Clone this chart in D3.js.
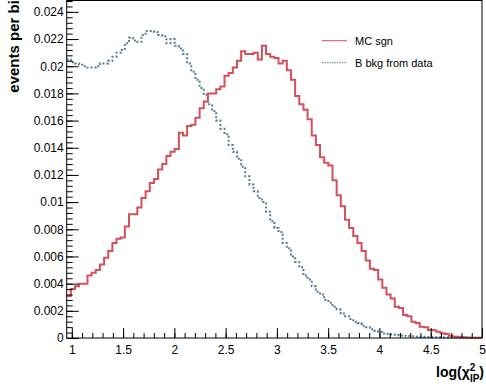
<!DOCTYPE html>
<html>
<head>
<meta charset="utf-8">
<script src="https://cdn.jsdelivr.net/npm/d3@7"></script>
<style>
  body { margin: 0; background: #fff; }
  svg { display: block; font-family: "Liberation Sans", Arial, sans-serif; }
</style>
</head>
<body>
<div id="chart"></div>
<script>
// histogram binning
const binLo = 0.95;
const binHi = 5;
const nBins = 100;

// MC signal, events per bin
const mcSgn = [
  0.0031, 0.0036, 0.0038, 0.0040, 0.0040, 0.0046, 0.0048, 0.0050, 0.0054, 0.0059,
  0.0064, 0.0070, 0.0073, 0.0074, 0.0082, 0.0091, 0.0091, 0.0096, 0.0103, 0.0108,
  0.0114, 0.0117, 0.0124, 0.0128, 0.0134, 0.0137, 0.0139, 0.0151, 0.0149, 0.0156,
  0.0157, 0.0162, 0.0169, 0.0174, 0.0180, 0.0180, 0.0183, 0.0185, 0.0193, 0.0195,
  0.0199, 0.0204, 0.0211, 0.0209, 0.0209, 0.0210, 0.0205, 0.0215, 0.0209, 0.0207,
  0.0206, 0.0202, 0.0204, 0.0197, 0.0190, 0.0178, 0.0172, 0.0168, 0.0161, 0.0149,
  0.0142, 0.0133, 0.0129, 0.0127, 0.0116, 0.0105, 0.0097, 0.0087, 0.0081, 0.0075,
  0.0070, 0.0064, 0.0057, 0.0051, 0.0050, 0.0043, 0.0037, 0.0032, 0.0029, 0.0023,
  0.0022, 0.0017, 0.0016, 0.0012, 0.0011, 0.00083, 0.00079, 0.00059, 0.00057, 0.00046,
  0.00035, 0.0003, 0.00017, 0.0001, 0.0001, 0.00005, 0.00004, 0.00002, 0.00001, 0.00001
];

// B background from data
const bBkg = [
  0.0205, 0.0203, 0.0202, 0.0201, 0.0200, 0.0199, 0.0199, 0.0200, 0.0202, 0.0202,
  0.0204, 0.0207, 0.0210, 0.0212, 0.0217, 0.0221, 0.0219, 0.0218, 0.0223, 0.0226,
  0.0226, 0.0225, 0.0223, 0.0222, 0.0217, 0.0220, 0.0215, 0.0213, 0.0209, 0.0202,
  0.0196, 0.0190, 0.0184, 0.0179, 0.0172, 0.0167, 0.0160, 0.0154, 0.0150, 0.0142,
  0.0137, 0.0132, 0.0126, 0.0119, 0.0113, 0.0108, 0.0103, 0.0100, 0.0093, 0.0086,
  0.0081, 0.0078, 0.0070, 0.0066, 0.0060, 0.0056, 0.0052, 0.0046, 0.0043, 0.0038,
  0.0034, 0.0032, 0.0028, 0.0026, 0.0023, 0.0021, 0.0018, 0.0016, 0.0014, 0.0012,
  0.0011, 0.0009, 0.0008, 0.00064, 0.00054, 0.00044, 0.00034, 0.0003, 0.00026, 0.00022,
  0.00019, 0.00016, 0.00014, 0.00012, 0.0001, 0.00009, 0.00008, 0.00007, 0.00006, 0.00005,
  0.00004, 0.00004, 0.00003, 0.00003, 0.00002, 0.00002, 0.00002, 0.00001, 0.00001, 0.00001
];

const xTicks = [1, 1.5, 2, 2.5, 3, 3.5, 4, 4.5, 5];
const yTicks = [0, 0.002, 0.004, 0.006, 0.008, 0.01, 0.012, 0.014, 0.016, 0.018, 0.02, 0.022, 0.024];
const yMax = 0.0248;
const legendLabels = ['MC sgn', 'B bkg from data'];

const width = 486;
const height = 389;
const frame = { left: 66.7, right: 482, top: 1, bottom: 338 };
const red = '#d4505a';
const blue = '#5b7b98';

const svg = d3.select('#chart')
  .append('svg')
  .attr('width', width)
  .attr('height', height);

const x = d3.scaleLinear().domain([binLo, binHi]).range([frame.left, frame.right]);
const y = d3.scaleLinear().domain([0, yMax]).range([frame.bottom, frame.top]);

const binW = (binHi - binLo) / nBins;
function steps(vals) {
  const pts = vals.map((v, i) => [binLo + i * binW, v]);
  pts.push([binHi, vals[vals.length - 1]]);
  return pts;
}

const line = d3.line()
  .x(d => x(d[0]))
  .y(d => y(d[1]))
  .curve(d3.curveStepAfter);

// histograms
svg.append('path')
  .attr('d', line(steps(bBkg)))
  .attr('fill', 'none')
  .attr('stroke', blue)
  .attr('stroke-width', 2)
  .attr('stroke-dasharray', '2,2');

svg.append('path')
  .attr('d', line(steps(mcSgn)))
  .attr('fill', 'none')
  .attr('stroke', red)
  .attr('stroke-width', 2);

// axes, ticks pointing inwards
const fmtY = d => String(+d.toFixed(3));
const yMinor = d3.range(0, yMax + 1e-9, 0.0004);
const xMinor = d3.range(1, 5.0001, 0.1);

svg.append('g')
  .attr('transform', 'translate(' + frame.left + ',0)')
  .call(d3.axisLeft(y).tickValues(yMinor).tickSizeInner(-6).tickSizeOuter(0).tickFormat(''))
  .call(g => g.select('.domain').remove());

svg.append('g')
  .attr('transform', 'translate(' + frame.left + ',0)')
  .call(d3.axisLeft(y).tickValues(yTicks).tickSizeInner(-12).tickSizeOuter(0).tickPadding(3).tickFormat(fmtY))
  .call(g => g.select('.domain').remove())
  .call(g => g.selectAll('text').attr('font-size', 12).attr('fill', '#000').attr('font-family', null));

svg.append('g')
  .attr('transform', 'translate(0,' + frame.bottom + ')')
  .call(d3.axisBottom(x).tickValues(xMinor).tickSizeInner(-5).tickSizeOuter(0).tickFormat(''))
  .call(g => g.select('.domain').remove());

svg.append('g')
  .attr('transform', 'translate(0,' + frame.bottom + ')')
  .call(d3.axisBottom(x).tickValues(xTicks).tickSizeInner(-10).tickSizeOuter(0).tickPadding(7).tickFormat(d3.format('')))
  .call(g => g.select('.domain').remove())
  .call(g => g.selectAll('text').attr('font-size', 12).attr('fill', '#000').attr('font-family', null));

svg.append('rect')
  .attr('x', frame.left)
  .attr('y', frame.top - 0.5)
  .attr('width', frame.right - frame.left)
  .attr('height', frame.bottom - frame.top + 0.5)
  .attr('fill', 'none')
  .attr('stroke', '#000')
  .attr('stroke-width', 1);

// axis titles (y title runs past the top edge, as in the original)
svg.append('text')
  .attr('transform', 'translate(19,-9) rotate(-90)')
  .attr('text-anchor', 'end')
  .attr('font-size', 15)
  .attr('font-weight', 'bold')
  .text('events per bin');

const xt = svg.append('text')
  .attr('x', 484)
  .attr('y', 377)
  .attr('text-anchor', 'end')
  .attr('font-size', 14)
  .attr('font-weight', 'bold');
xt.append('tspan').text('log(\u03c7');
xt.append('tspan').attr('font-size', 10).attr('dy', -6).text('2');
xt.append('tspan').attr('font-size', 10).attr('dx', -5.5).attr('dy', 11).text('IP');
xt.append('tspan').attr('dy', -5).text(')');

// legend
const legend = svg.append('g');
[red, blue].forEach((c, i) => {
  const ly = 40.7 + i * 22;
  legend.append('line')
    .attr('x1', 322).attr('x2', 347)
    .attr('y1', ly).attr('y2', ly)
    .attr('stroke', c)
    .attr('stroke-width', 1)
    .attr('stroke-dasharray', i === 1 ? '1.5,1' : null);
  legend.append('text')
    .attr('x', 355)
    .attr('y', ly + 4)
    .attr('font-size', 11)
    .text(legendLabels[i]);
});
</script>
</body>
</html>
